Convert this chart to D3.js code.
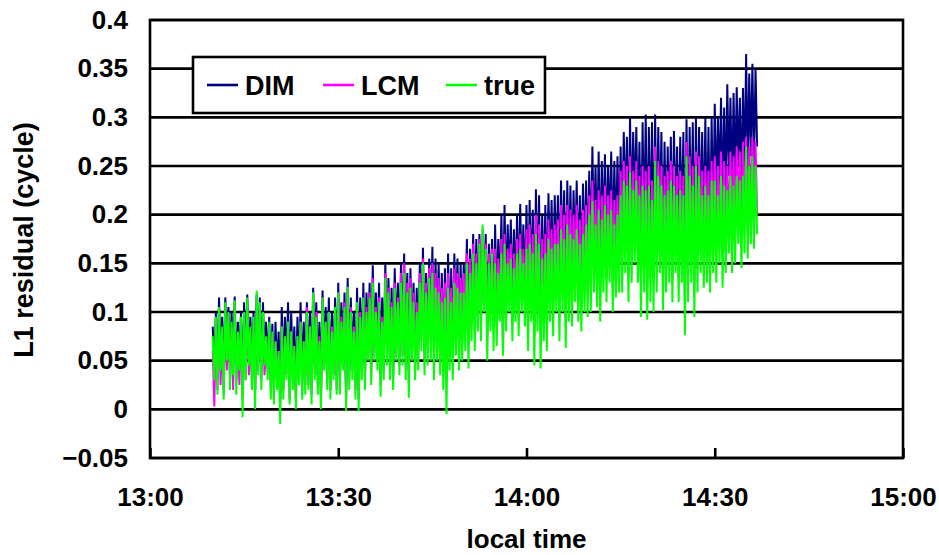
<!DOCTYPE html>
<html>
<head>
<meta charset="utf-8">
<script src="https://cdn.jsdelivr.net/npm/d3@7"></script>
<style>
  html, body { margin: 0; padding: 0; background: #fff; }
  svg { display: block; }
  text { font-family: "Liberation Sans", Arial, sans-serif; font-weight: bold; fill: #000; }
</style>
</head>
<body>
<svg id="chart" width="939" height="555"></svg>
<script>
// L1 carrier-phase residuals, one sample every 15 s starting 13:10 local time
const sampleStart = "13:10:00";
const sampleStepSeconds = 15;

const seriesNames = ["DIM", "LCM", "true"];
const seriesColors = ["#000080", "#ff00ff", "#00ff00"];

const dimValues = [
  0.085, 0.045, 0.1, 0.03, 0.115, 0.05, 0.095, 0.03, 0.115, 0.06, 0.105, 0.04, 0.1, 0.05, 0.116, 0.03, 0.09, 0.05, 0.1, 0.02,
  0.11, 0.05, 0.118, 0.055, 0.095, 0.04, 0.1, 0.02, 0.118, 0.05, 0.115, 0.04, 0.11, 0.055, 0.09, 0.045, 0.095, 0.03, 0.088, 0.02,
  0.09, 0.04, 0.08, 0.01, 0.105, 0.03, 0.095, 0.045, 0.11, 0.025, 0.1, 0.04, 0.085, 0.02, 0.095, 0.04, 0.11, 0.03, 0.09, 0.035,
  0.11, 0.04, 0.1, 0.025, 0.125, 0.05, 0.11, 0.035, 0.09, 0.02, 0.122, 0.055, 0.105, 0.04, 0.115, 0.03, 0.1, 0.045, 0.115, 0.035,
  0.13, 0.035, 0.11, 0.055, 0.12, 0.015, 0.135, 0.04, 0.115, 0.05, 0.1, 0.03, 0.125, 0.02, 0.115, 0.05, 0.13, 0.04, 0.12, 0.065,
  0.13, 0.045, 0.148, 0.07, 0.12, 0.06, 0.13, 0.035, 0.115, 0.05, 0.15, 0.065, 0.135, 0.05, 0.125, 0.04, 0.145, 0.07, 0.13, 0.055,
  0.15, 0.07, 0.16, 0.055, 0.14, 0.04, 0.145, 0.075, 0.13, 0.055, 0.125, 0.065, 0.15, 0.085, 0.166, 0.06, 0.14, 0.07, 0.155, 0.075,
  0.167, 0.06, 0.155, 0.08, 0.15, 0.065, 0.14, 0.05, 0.145, 0.03, 0.16, 0.07, 0.145, 0.06, 0.16, 0.085, 0.155, 0.07, 0.15, 0.08,
  0.15, 0.09, 0.175, 0.075, 0.165, 0.1, 0.18, 0.09, 0.175, 0.11, 0.18, 0.1, 0.17, 0.12, 0.18, 0.085, 0.17, 0.11, 0.175, 0.09,
  0.19, 0.105, 0.175, 0.12, 0.2, 0.1, 0.21, 0.12, 0.19, 0.135, 0.195, 0.11, 0.185, 0.125, 0.2, 0.115, 0.211, 0.13, 0.19, 0.12,
  0.21, 0.105, 0.215, 0.13, 0.205, 0.09, 0.226, 0.12, 0.22, 0.09, 0.2, 0.115, 0.21, 0.105, 0.222, 0.135, 0.215, 0.12, 0.22, 0.14,
  0.22, 0.12, 0.235, 0.145, 0.225, 0.115, 0.235, 0.14, 0.23, 0.135, 0.225, 0.155, 0.235, 0.14, 0.22, 0.13, 0.232, 0.15, 0.235, 0.145,
  0.245, 0.155, 0.27, 0.175, 0.25, 0.16, 0.265, 0.15, 0.255, 0.175, 0.262, 0.165, 0.25, 0.185, 0.265, 0.16, 0.255, 0.17, 0.26, 0.175,
  0.27, 0.18, 0.285, 0.2, 0.28, 0.17, 0.3, 0.19, 0.285, 0.21, 0.29, 0.19, 0.275, 0.155, 0.295, 0.18, 0.303, 0.152, 0.29, 0.17,
  0.295, 0.15, 0.303, 0.17, 0.29, 0.19, 0.285, 0.152, 0.275, 0.17, 0.27, 0.18, 0.28, 0.16, 0.286, 0.19, 0.27, 0.16, 0.28, 0.18,
  0.285, 0.13, 0.298, 0.16, 0.29, 0.18, 0.295, 0.145, 0.3, 0.17, 0.29, 0.19, 0.285, 0.175, 0.3, 0.18, 0.29, 0.17, 0.3, 0.19,
  0.314, 0.21, 0.3, 0.23, 0.32, 0.205, 0.31, 0.22, 0.334, 0.24, 0.32, 0.22, 0.325, 0.23, 0.331, 0.25, 0.32, 0.225, 0.33, 0.24,
  0.365, 0.245, 0.345, 0.26, 0.355, 0.25, 0.35, 0.27
];

const lcmValues = [
  0.06, 0.003, 0.09, 0.02, 0.1, 0.025, 0.08, 0.015, 0.105, 0.04, 0.095, 0.03, 0.085, 0.02, 0.105, 0.03, 0.075, 0.025, 0.09, 0.01,
  0.095, 0.03, 0.11, 0.035, 0.08, 0.025, 0.09, 0.02, 0.115, 0.04, 0.105, 0.03, 0.095, 0.035, 0.07, 0.04, 0.085, 0.02, 0.075, 0.025,
  0.07, 0.025, 0.06, 0.005, 0.085, 0.02, 0.075, 0.035, 0.09, 0.01, 0.08, 0.03, 0.065, 0.01, 0.075, 0.03, 0.09, 0.02, 0.07, 0.025,
  0.105, 0.025, 0.085, 0.015, 0.12, 0.035, 0.1, 0.02, 0.075, 0.01, 0.115, 0.045, 0.09, 0.025, 0.1, 0.02, 0.085, 0.035, 0.105, 0.02,
  0.12, 0.02, 0.095, 0.045, 0.11, 0.01, 0.125, 0.03, 0.105, 0.04, 0.085, 0.02, 0.11, 0.01, 0.1, 0.04, 0.115, 0.03, 0.105, 0.055,
  0.12, 0.035, 0.135, 0.055, 0.105, 0.05, 0.115, 0.025, 0.095, 0.04, 0.14, 0.05, 0.125, 0.04, 0.11, 0.03, 0.13, 0.055, 0.115, 0.045,
  0.14, 0.055, 0.15, 0.045, 0.13, 0.025, 0.135, 0.06, 0.12, 0.045, 0.11, 0.05, 0.14, 0.07, 0.155, 0.05, 0.13, 0.06, 0.145, 0.065,
  0.15, 0.075, 0.14, 0.09, 0.135, 0.08, 0.125, 0.07, 0.13, 0.06, 0.14, 0.085, 0.125, 0.075, 0.145, 0.095, 0.14, 0.08, 0.135, 0.09,
  0.14, 0.085, 0.16, 0.065, 0.155, 0.09, 0.17, 0.08, 0.16, 0.1, 0.175, 0.09, 0.185, 0.115, 0.17, 0.075, 0.16, 0.1, 0.165, 0.085,
  0.165, 0.09, 0.155, 0.11, 0.175, 0.06, 0.18, 0.1, 0.165, 0.12, 0.17, 0.09, 0.16, 0.11, 0.175, 0.095, 0.18, 0.12, 0.165, 0.105,
  0.185, 0.085, 0.19, 0.11, 0.18, 0.075, 0.2, 0.1, 0.19, 0.08, 0.175, 0.095, 0.18, 0.085, 0.195, 0.115, 0.185, 0.1, 0.19, 0.12,
  0.195, 0.095, 0.21, 0.125, 0.2, 0.09, 0.21, 0.115, 0.205, 0.11, 0.2, 0.135, 0.21, 0.115, 0.195, 0.105, 0.205, 0.125, 0.21, 0.12,
  0.22, 0.125, 0.235, 0.145, 0.215, 0.13, 0.225, 0.115, 0.22, 0.145, 0.23, 0.135, 0.22, 0.155, 0.225, 0.125, 0.215, 0.14, 0.22, 0.145,
  0.245, 0.145, 0.255, 0.165, 0.25, 0.135, 0.26, 0.155, 0.245, 0.175, 0.255, 0.155, 0.24, 0.125, 0.25, 0.145, 0.245, 0.125, 0.25, 0.135,
  0.235, 0.13, 0.27, 0.145, 0.255, 0.165, 0.25, 0.13, 0.24, 0.145, 0.245, 0.155, 0.255, 0.135, 0.25, 0.165, 0.24, 0.135, 0.245, 0.155,
  0.24, 0.11, 0.275, 0.135, 0.26, 0.155, 0.25, 0.125, 0.265, 0.145, 0.26, 0.165, 0.245, 0.15, 0.25, 0.155, 0.245, 0.145, 0.255, 0.165,
  0.26, 0.16, 0.25, 0.175, 0.265, 0.155, 0.255, 0.17, 0.25, 0.185, 0.265, 0.17, 0.26, 0.18, 0.27, 0.195, 0.265, 0.175, 0.275, 0.19,
  0.28, 0.18, 0.27, 0.2, 0.28, 0.19, 0.275, 0.2
];

const trueValues = [
  0.075, 0.03, 0.095, 0.015, 0.105, 0.04, 0.085, 0.01, 0.11, 0.05, 0.1, 0.02, 0.09, 0.035, 0.112, 0.015, 0.08, 0.04, 0.095, -0.008,
  0.1, 0.03, 0.115, 0.045, 0.085, 0.02, 0.095, 0.0, 0.122, 0.035, 0.11, 0.02, 0.1, 0.045, 0.075, 0.03, 0.09, 0.01, 0.08, 0.005,
  0.07, 0.02, 0.06, -0.015, 0.085, 0.01, 0.075, 0.03, 0.09, 0.005, 0.08, 0.02, 0.065, 0.0, 0.075, 0.025, 0.09, 0.01, 0.07, 0.015,
  0.1, 0.02, 0.085, 0.005, 0.12, 0.03, 0.095, 0.015, 0.07, 0.0, 0.115, 0.04, 0.09, 0.02, 0.1, 0.01, 0.08, 0.03, 0.105, 0.015,
  0.12, 0.015, 0.09, 0.04, 0.105, -0.002, 0.126, 0.02, 0.1, 0.03, 0.08, 0.01, 0.11, -0.002, 0.095, 0.03, 0.115, 0.02, 0.1, 0.05,
  0.115, 0.025, 0.13, 0.05, 0.1, 0.04, 0.11, 0.013, 0.09, 0.03, 0.135, 0.045, 0.12, 0.03, 0.105, 0.02, 0.125, 0.05, 0.11, 0.035,
  0.13, 0.045, 0.14, 0.03, 0.12, 0.012, 0.125, 0.05, 0.11, 0.03, 0.1, 0.04, 0.13, 0.06, 0.15, 0.035, 0.12, 0.045, 0.135, 0.05,
  0.14, 0.03, 0.125, 0.05, 0.12, 0.035, 0.11, 0.02, 0.115, -0.005, 0.125, 0.04, 0.11, 0.03, 0.13, 0.055, 0.125, 0.04, 0.12, 0.05,
  0.12, 0.06, 0.15, 0.042, 0.14, 0.07, 0.16, 0.06, 0.15, 0.08, 0.17, 0.07, 0.19, 0.1, 0.165, 0.05, 0.15, 0.08, 0.16, 0.06,
  0.15, 0.065, 0.14, 0.09, 0.16, 0.055, 0.17, 0.08, 0.15, 0.1, 0.155, 0.07, 0.145, 0.09, 0.16, 0.075, 0.165, 0.1, 0.15, 0.085,
  0.165, 0.06, 0.17, 0.09, 0.16, 0.045, 0.18, 0.08, 0.17, 0.042, 0.155, 0.07, 0.16, 0.06, 0.175, 0.09, 0.165, 0.075, 0.17, 0.1,
  0.17, 0.07, 0.185, 0.1, 0.175, 0.063, 0.19, 0.09, 0.18, 0.085, 0.175, 0.11, 0.185, 0.09, 0.17, 0.08, 0.18, 0.1, 0.19, 0.095,
  0.2, 0.1, 0.214, 0.12, 0.19, 0.105, 0.205, 0.09, 0.195, 0.12, 0.21, 0.11, 0.2, 0.13, 0.205, 0.1, 0.19, 0.115, 0.2, 0.12,
  0.22, 0.12, 0.235, 0.14, 0.23, 0.11, 0.244, 0.13, 0.225, 0.15, 0.235, 0.13, 0.22, 0.095, 0.23, 0.12, 0.225, 0.092, 0.23, 0.11,
  0.215, 0.1, 0.255, 0.12, 0.24, 0.14, 0.23, 0.102, 0.22, 0.12, 0.225, 0.13, 0.235, 0.11, 0.23, 0.14, 0.22, 0.11, 0.225, 0.13,
  0.22, 0.076, 0.26, 0.11, 0.24, 0.13, 0.23, 0.095, 0.25, 0.12, 0.24, 0.14, 0.22, 0.125, 0.23, 0.13, 0.22, 0.12, 0.235, 0.14,
  0.235, 0.13, 0.22, 0.15, 0.24, 0.125, 0.23, 0.14, 0.225, 0.16, 0.24, 0.14, 0.23, 0.15, 0.24, 0.17, 0.235, 0.145, 0.24, 0.16,
  0.27, 0.155, 0.25, 0.17, 0.26, 0.165, 0.25, 0.18
];

const yTickValues = [-0.05, 0, 0.05, 0.1, 0.15, 0.2, 0.25, 0.3, 0.35, 0.4];
const yTickLabels = ["\u22120.05", "0", "0.05", "0.1", "0.15", "0.2", "0.25", "0.3", "0.35", "0.4"];
const xTickTimes = ["13:00", "13:30", "14:00", "14:30", "15:00"];
const xDomain = ["13:00", "15:00"];
const xAxisTitle = "local time";
const yAxisTitle = "L1 residual (cycle)";

const parseTime = d3.timeParse("%H:%M");
const parseTimeSec = d3.timeParse("%H:%M:%S");
const fmt = d3.timeFormat("%H:%M");

const svg = d3.select("#chart");
const plot = { left: 150, right: 903, top: 20, bottom: 458 };

const x = d3.scaleTime()
  .domain(xDomain.map(parseTime))
  .range([plot.left, plot.right]);
const y = d3.scaleLinear()
  .domain([-0.05, 0.4])
  .range([plot.bottom, plot.top]);

const t0 = parseTimeSec(sampleStart);
const timeAt = i => new Date(t0.getTime() + i * sampleStepSeconds * 1000);

const seriesValues = [dimValues, lcmValues, trueValues];

// horizontal grid lines
svg.append("g")
  .selectAll("line")
  .data(yTickValues)
  .join("line")
  .attr("x1", plot.left).attr("x2", plot.right)
  .attr("y1", d => y(d)).attr("y2", d => y(d))
  .attr("stroke", "#000").attr("stroke-width", 2.6);

// series lines, drawn DIM first so "true" sits on top
const line = d3.line()
  .x((d, i) => x(timeAt(i)))
  .y(d => y(d));

svg.append("g")
  .selectAll("path")
  .data(seriesValues)
  .join("path")
  .attr("d", d => line(d))
  .attr("fill", "none")
  .attr("stroke", (d, i) => seriesColors[i])
  .attr("stroke-width", 2)
  .attr("stroke-linejoin", "bevel");

// plot frame
svg.append("rect")
  .attr("x", plot.left).attr("y", plot.top)
  .attr("width", plot.right - plot.left).attr("height", plot.bottom - plot.top)
  .attr("fill", "none").attr("stroke", "#000").attr("stroke-width", 2.6);

// x axis: inward ticks along the bottom edge
const xAxis = d3.axisBottom(x)
  .tickValues(xTickTimes.map(parseTime))
  .tickSize(-10)
  .tickFormat(fmt);
const gx = svg.append("g")
  .attr("transform", `translate(0,${plot.bottom})`)
  .call(xAxis);
gx.select(".domain").remove();
gx.selectAll(".tick line").attr("stroke", "#000").attr("stroke-width", 2.6);
gx.selectAll(".tick text")
  .attr("font-size", 26)
  .attr("font-family", "'Liberation Sans', Arial, sans-serif")
  .attr("font-weight", "bold")
  .attr("dy", "0.71em")
  .attr("y", 30);

// y axis labels
const yAxis = d3.axisLeft(y)
  .tickValues(yTickValues)
  .tickSize(0)
  .tickPadding(22)
  .tickFormat((d, i) => yTickLabels[i]);
const gy = svg.append("g")
  .attr("transform", `translate(${plot.left},0)`)
  .call(yAxis);
gy.select(".domain").remove();
gy.selectAll(".tick text")
  .attr("font-size", 26)
  .attr("font-family", "'Liberation Sans', Arial, sans-serif")
  .attr("font-weight", "bold");

// axis titles
svg.append("text")
  .attr("x", (plot.left + plot.right) / 2)
  .attr("y", 548)
  .attr("text-anchor", "middle")
  .attr("font-size", 26)
  .text(xAxisTitle);

svg.append("text")
  .attr("transform", "translate(33,240) rotate(-90)")
  .attr("text-anchor", "middle")
  .attr("font-size", 27)
  .text(yAxisTitle);

// legend
const legend = svg.append("g");
legend.append("rect")
  .attr("x", 193).attr("y", 57).attr("width", 352).attr("height", 56)
  .attr("fill", "#fff").attr("stroke", "#000").attr("stroke-width", 2.6);
const legendX = [207, 323, 446];
const item = legend.selectAll("g.item")
  .data(seriesNames)
  .join("g")
  .attr("class", "item")
  .attr("transform", (d, i) => `translate(${legendX[i]},85)`);
item.append("line")
  .attr("x1", 0).attr("x2", 31).attr("y1", 0).attr("y2", 0)
  .attr("stroke", (d, i) => seriesColors[i]).attr("stroke-width", 2.6);
item.append("text")
  .attr("x", 38).attr("y", 9.5)
  .attr("font-size", 27)
  .text(d => d);
</script>
</body>
</html>
